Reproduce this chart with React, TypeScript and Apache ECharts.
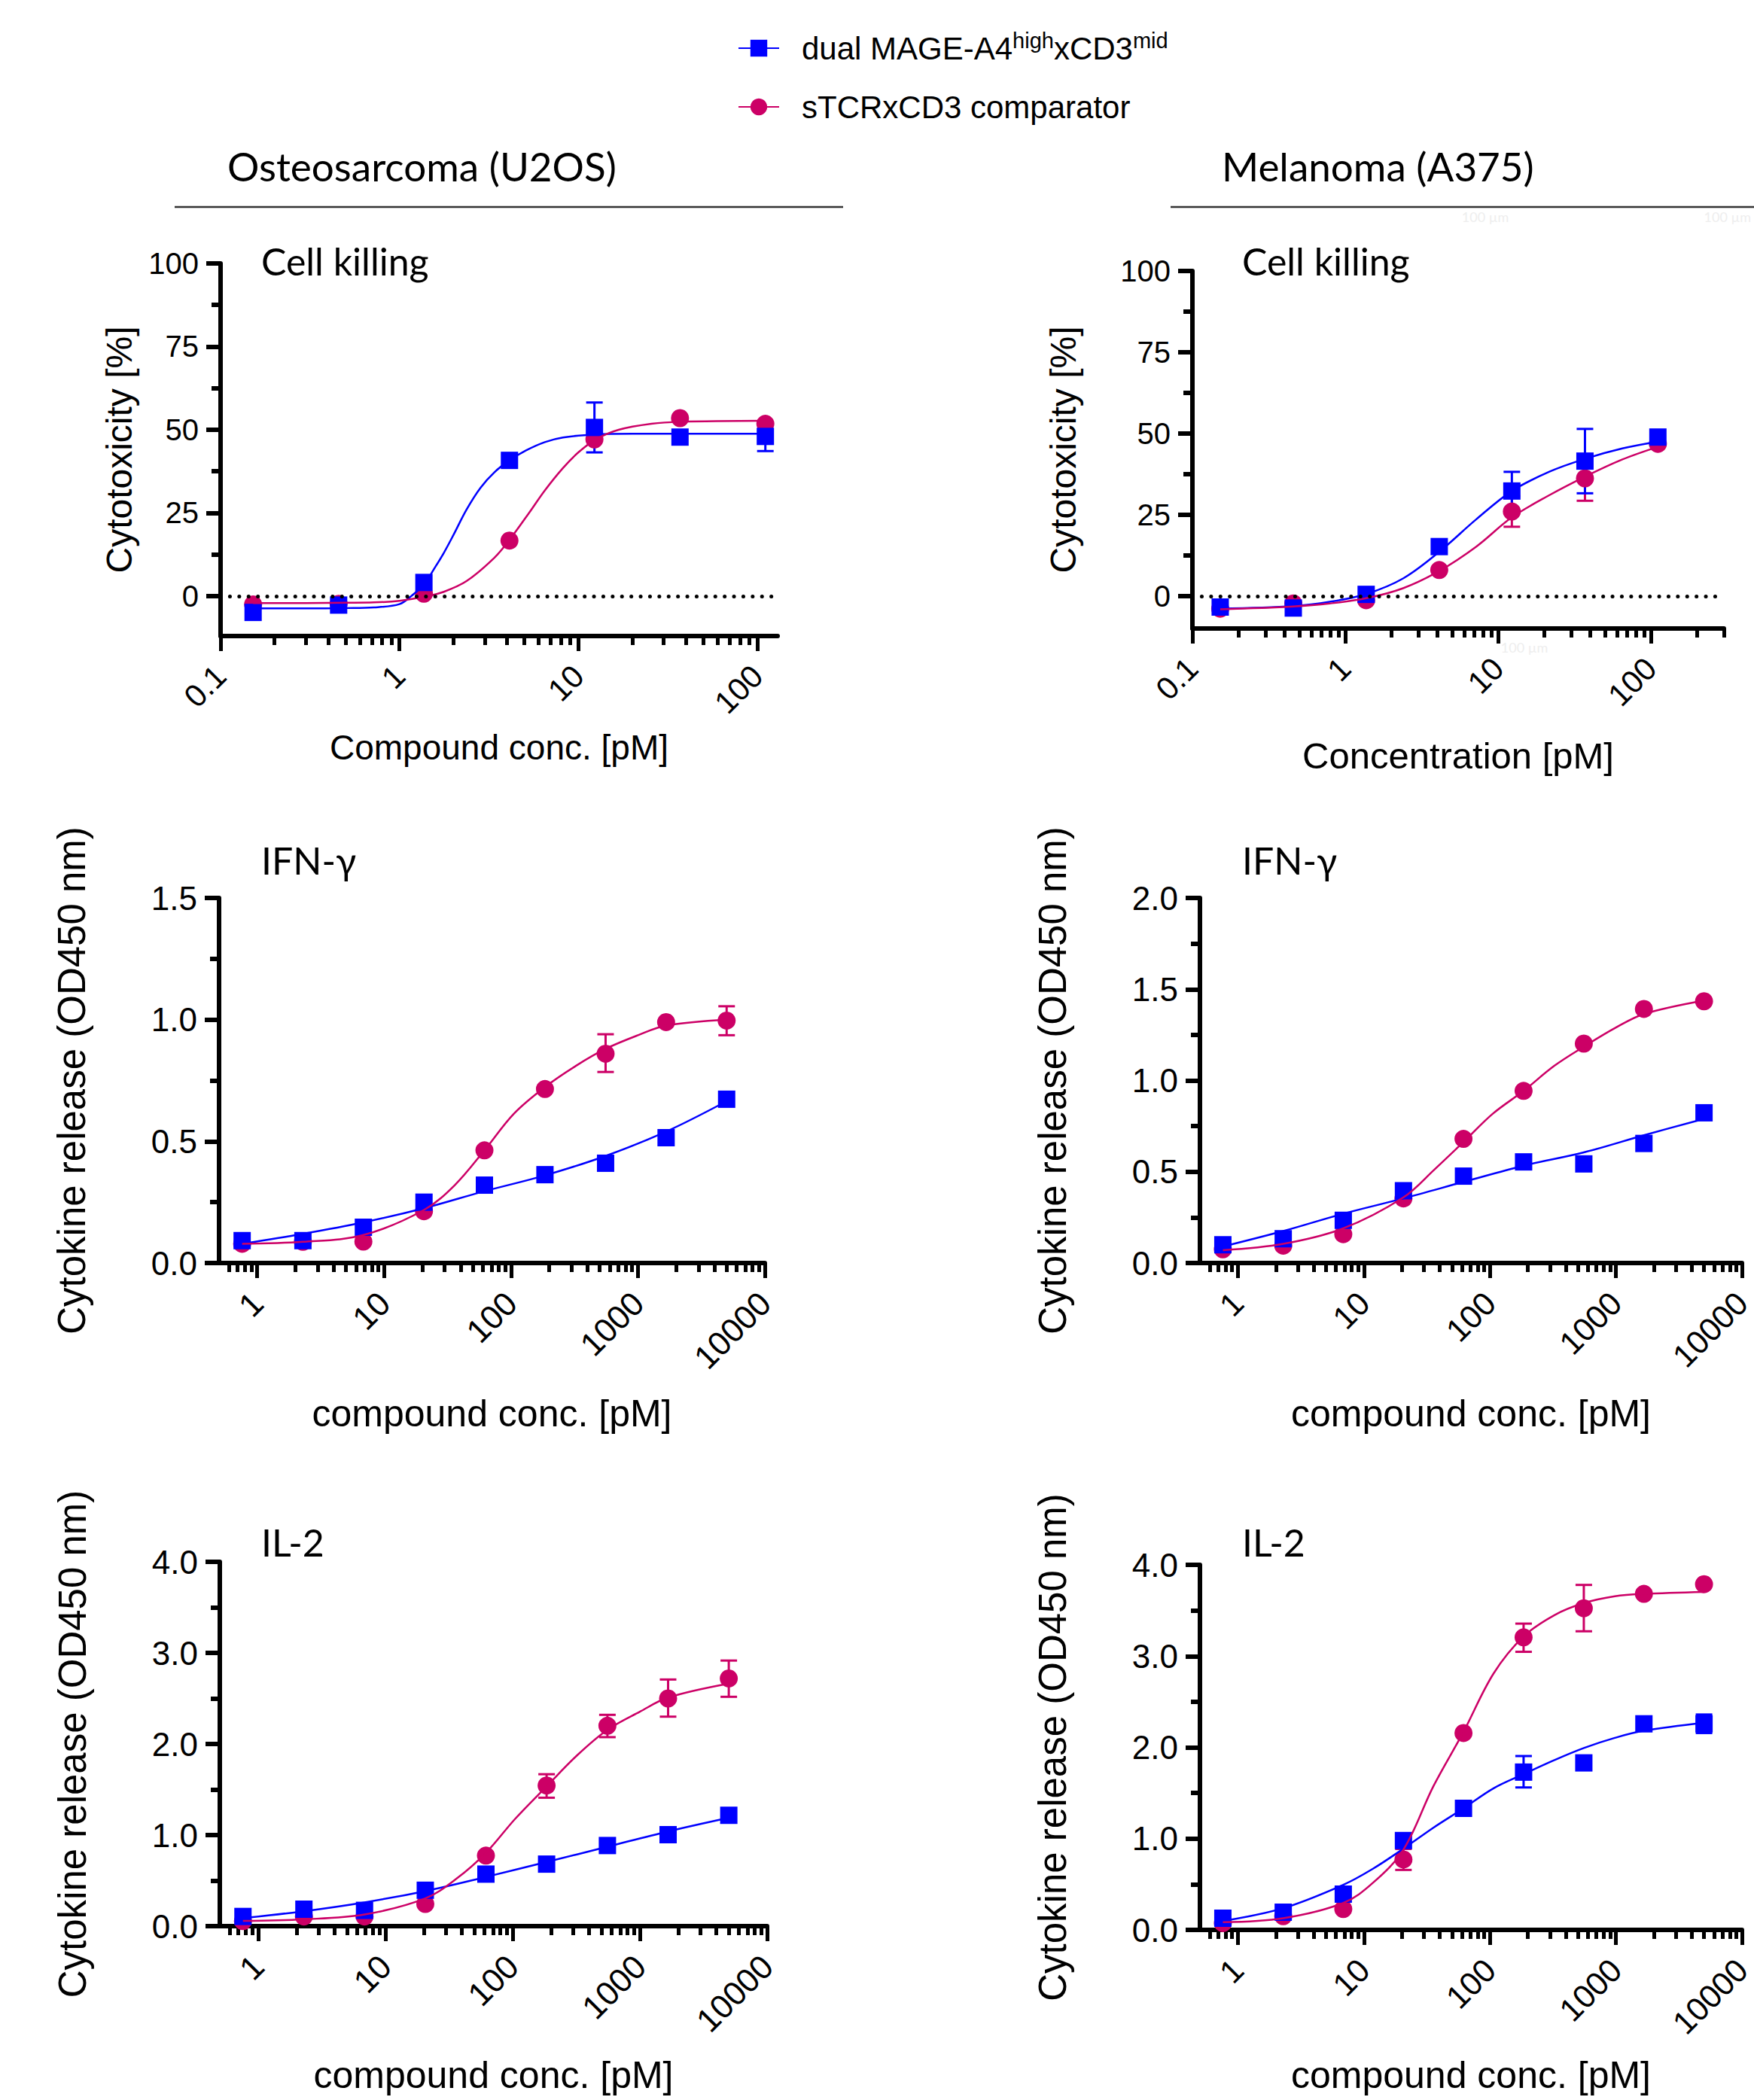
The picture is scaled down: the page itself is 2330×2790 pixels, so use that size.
import React, { useEffect, useRef } from 'react';
import * as echarts from 'echarts';

const W = 2330;
const H = 2790;
const BLUE = '#0000ff';
const RED = '#cc0066';
const ARIAL = '"Liberation Sans", Arial, Helvetica, sans-serif';
const CALIBRI = 'Lato, "Open Sans", sans-serif';

const NAME_DUAL = 'dual MAGE-A4highxCD3mid';
const NAME_STCR = 'sTCRxCD3 comparator';

// ---------- Cell killing (compound conc. in pM) ----------
const ckConc = [0.152, 0.457, 1.37, 4.12, 12.3, 37, 111];

const ckU2osDual = [-4.9, -2.7, 4.1, 40.8, 50.7, 47.8, 48.0];
const ckU2osStcr = [-2.5, -2.3, 0.7, 16.7, 47.1, 53.5, 51.8];
const ckU2osDualErr = [[12.3, 43.2, 58.2], [111, 43.6, 52.2]];
const ckU2osStcrErr: number[][] = [];
const ckU2osDualFitX = [0.152, 0.3, 0.5, 0.72, 1, 1.17, 1.38, 1.57, 1.77, 2.0, 2.37, 2.84, 3.39, 4.12, 5.1, 6.5, 8.2, 12.5, 20, 37, 111];
const ckU2osDualFitY = [-3.7, -3.7, -3.6, -3.4, -2.4, 0.1, 3.7, 8.4, 13, 18.3, 26, 32.6, 37.2, 40.8, 43.8, 46.3, 47.7, 48.6, 48.8, 48.8, 48.8];
const ckU2osStcrFitX = [0.152, 0.3, 0.5, 0.72, 1, 1.38, 1.77, 2.37, 3.39, 4.12, 5.3, 6.5, 8.2, 10, 12.5, 16.8, 25.6, 37, 111];
const ckU2osStcrFitY = [-2.1, -2.1, -2.0, -1.9, -1.4, -0.2, 1.3, 4.5, 11.5, 16.9, 25, 31.8, 38.5, 43.2, 47.1, 50, 51.8, 52.4, 52.7];

const ckA375Dual = [-3.4, -3.7, 0.5, 15.2, 32.3, 41.5, 48.9];
const ckA375Stcr = [-3.9, -2.3, -1.3, 8.0, 26.0, 36.2, 46.8];
const ckA375DualErr = [[12.3, 26.4, 38.2], [37, 31.6, 51.4]];
const ckA375StcrErr = [[12.3, 21.3, 30.7], [37, 29.3, 43.1]];
const ckA375FitX = [0.152, 0.457, 0.79, 1.37, 2.39, 4.12, 7.2, 12.3, 21.8, 37, 65, 111];
const ckA375DualFitY = [-3.9, -3.1, -1.8, 0.6, 5.4, 13.6, 23.6, 32.3, 38.3, 42.2, 45.4, 47.5];
const ckA375StcrFitY = [-4.1, -3.2, -2.3, -0.7, 2.4, 7.7, 15.2, 24.2, 31.1, 36.7, 42.0, 45.9];

// ---------- Cytokine release (compound conc. in pM) ----------
const cytConc = [0.76, 2.29, 6.86, 20.6, 61.7, 185, 556, 1667, 5000];
const cytFitX = [0.76, 2.29, 6.86, 20.6, 36, 61.7, 105, 185, 324, 556, 1000, 1667, 5000];

const ifnU2osDual = [0.092, 0.092, 0.147, 0.25, 0.32, 0.363, 0.41, 0.515, 0.673];
const ifnU2osStcr = [0.079, 0.087, 0.088, 0.213, 0.463, 0.715, 0.86, 0.99, 0.996];
const ifnU2osDualErr: number[][] = [];
const ifnU2osStcrErr = [[556, 0.785, 0.94], [5000, 0.936, 1.055]];
const ifnU2osDualFitY = [0.079, 0.12, 0.167, 0.225, 0.295, 0.36, 0.44, 0.54, 0.665];
const ifnU2osStcrFitY = [0.079, 0.087, 0.115, 0.218, 0.32, 0.463, 0.613, 0.723, 0.81, 0.88, 0.936, 0.976, 1.0];

const ifnA375Dual = [0.1, 0.133, 0.234, 0.396, 0.476, 0.554, 0.543, 0.655, 0.823];
const ifnA375Stcr = [0.075, 0.095, 0.158, 0.354, 0.68, 0.943, 1.202, 1.392, 1.434];
const ifnA375DualErr: number[][] = [];
const ifnA375StcrErr: number[][] = [];
const ifnA375DualFitY = [0.09, 0.175, 0.27, 0.354, 0.444, 0.533, 0.606, 0.7, 0.79];
const ifnA375StcrFitY = [0.07, 0.105, 0.19, 0.36, 0.51, 0.663, 0.817, 0.943, 1.08, 1.185, 1.29, 1.364, 1.438];

const il2U2osDual = [0.106, 0.186, 0.173, 0.394, 0.571, 0.681, 0.885, 1.004, 1.217];
const il2U2osStcr = [0.055, 0.106, 0.106, 0.243, 0.774, 1.544, 2.2, 2.5, 2.72];
const il2U2osDualErr: number[][] = [];
const il2U2osStcrErr = [[185, 1.41, 1.668], [556, 2.075, 2.32], [1667, 2.3, 2.708], [5000, 2.518, 2.916]];
const il2U2osDualFitY = [0.088, 0.164, 0.261, 0.385, 0.54, 0.704, 0.872, 1.04, 1.19];
const il2U2osStcrFitY = [0.058, 0.075, 0.128, 0.305, 0.518, 0.805, 1.18, 1.535, 1.88, 2.155, 2.354, 2.51, 2.664];

const il2A375Dual = [0.128, 0.194, 0.392, 0.979, 1.332, 1.729, 1.83, 2.258, 2.258];
const il2A375Stcr = [0.075, 0.15, 0.229, 0.772, 2.157, 3.206, 3.524, 3.682, 3.788];
const il2A375DualErr = [[185, 1.561, 1.905], [5000, 2.157, 2.36]];
const il2A375StcrErr = [[20.6, 0.657, 0.887], [185, 3.047, 3.356], [556, 3.272, 3.78]];
const il2A375FitX = [0.76, 2.29, 6.86, 11.8, 20.6, 35.6, 61.7, 107, 185, 325, 556, 980, 1667, 5000];
const il2A375DualFitY = [0.097, 0.238, 0.494, 0.67, 0.89, 1.12, 1.332, 1.552, 1.707, 1.861, 1.993, 2.104, 2.183, 2.271];
const il2A375StcrFitY = [0.084, 0.128, 0.295, 0.516, 0.88, 1.574, 2.17, 2.81, 3.215, 3.449, 3.581, 3.656, 3.682, 3.704];

// ---------- Axis ticks ----------
const ckXTicks = [0.1, 1, 10, 100];
const ckU2osXMinor = [0.2, 0.3, 0.4, 0.5, 0.6, 0.7, 0.8, 0.9, 2, 3, 4, 5, 6, 7, 8, 9, 20, 30, 40, 50, 60, 70, 80, 90];
const ckA375XMinor = [0.2, 0.3, 0.4, 0.5, 0.6, 0.7, 0.8, 0.9, 2, 3, 4, 5, 6, 7, 8, 9, 20, 30, 40, 50, 60, 70, 80, 90, 200, 300];
const cytXTicks = [1, 10, 100, 1000, 10000];
const cytXMinor = [0.6, 0.7, 0.8, 0.9, 2, 3, 4, 5, 6, 7, 8, 9, 20, 30, 40, 50, 60, 70, 80, 90,
  200, 300, 400, 500, 600, 700, 800, 900, 2000, 3000, 4000, 5000, 6000, 7000, 8000, 9000];
const ckYTicks = [0, 25, 50, 75, 100];
const ckYMinor = [12.5, 37.5, 62.5, 87.5];
const ifnU2osYTicks = [0, 0.5, 1.0, 1.5];
const ifnU2osYMinor = [0.25, 0.75, 1.25];
const ifnA375YTicks = [0, 0.5, 1.0, 1.5, 2.0];
const ifnA375YMinor = [0.25, 0.75, 1.25, 1.75];
const il2YTicks = [0, 1, 2, 3, 4];
const il2YMinor = [0.5, 1.5, 2.5, 3.5];

interface PanelCfg {
  rect: [number, number, number, number];
  xRange: [number, number];
  xTicks: number[];
  xMinor: number[];
  yRange: [number, number];
  yTicks: number[];
  yMinor: number[];
  yDecimals: number;
  xName: string;
  yName: string;
  xNameGap: number;
  yNameGap: number;
  xNameSize: number;
  yNameSize: number;
  yLabelSize: number;
  xLabelSize: number;
  title: string;
  titlePos: [number, number];
  dualFit: [number[], number[]];
  stcrFit: [number[], number[]];
  conc: number[];
  dual: number[];
  stcr: number[];
  dualErr: number[][];
  stcrErr: number[][];
  zeroLine: boolean;
}

const panels: PanelCfg[] = [
  {
    rect: [293, 350, 740, 495], xRange: [0.1, 130], xTicks: ckXTicks, xMinor: ckU2osXMinor,
    yRange: [-12, 100], yTicks: ckYTicks, yMinor: ckYMinor, yDecimals: 0,
    xName: 'Compound conc. [pM]', yName: 'Cytotoxicity [%]', xNameGap: 125, yNameGap: 111,
    xNameSize: 46, yNameSize: 48, yLabelSize: 40, xLabelSize: 42,
    title: 'Cell killing', titlePos: [347, 366],
    dualFit: [ckU2osDualFitX, ckU2osDualFitY], stcrFit: [ckU2osStcrFitX, ckU2osStcrFitY],
    conc: ckConc, dual: ckU2osDual, stcr: ckU2osStcr, dualErr: ckU2osDualErr, stcrErr: ckU2osStcrErr, zeroLine: true,
  },
  {
    rect: [1584, 360, 706, 475], xRange: [0.1, 300], xTicks: ckXTicks, xMinor: ckA375XMinor,
    yRange: [-10, 100], yTicks: ckYTicks, yMinor: ckYMinor, yDecimals: 0,
    xName: 'Concentration [pM]', yName: 'Cytotoxicity [%]', xNameGap: 144, yNameGap: 148,
    xNameSize: 49, yNameSize: 48, yLabelSize: 40, xLabelSize: 42,
    title: 'Cell killing', titlePos: [1650, 366],
    dualFit: [ckA375FitX, ckA375DualFitY], stcrFit: [ckA375FitX, ckA375StcrFitY],
    conc: ckConc, dual: ckA375Dual, stcr: ckA375Stcr, dualErr: ckA375DualErr, stcrErr: ckA375StcrErr, zeroLine: true,
  },
  {
    rect: [291, 1193, 725, 485], xRange: [0.5, 10000], xTicks: cytXTicks, xMinor: cytXMinor,
    yRange: [0, 1.5], yTicks: ifnU2osYTicks, yMinor: ifnU2osYMinor, yDecimals: 1,
    xName: 'compound conc. [pM]', yName: 'Cytokine release (OD450 nm)', xNameGap: 175, yNameGap: 170,
    xNameSize: 50, yNameSize: 51, yLabelSize: 44, xLabelSize: 44,
    title: 'IFN-γ', titlePos: [347, 1162],
    dualFit: [cytConc, ifnU2osDualFitY], stcrFit: [cytFitX, ifnU2osStcrFitY],
    conc: cytConc, dual: ifnU2osDual, stcr: ifnU2osStcr, dualErr: ifnU2osDualErr, stcrErr: ifnU2osStcrErr, zeroLine: false,
  },
  {
    rect: [1594, 1193, 720, 485], xRange: [0.5, 10000], xTicks: cytXTicks, xMinor: cytXMinor,
    yRange: [0, 2], yTicks: ifnA375YTicks, yMinor: ifnA375YMinor, yDecimals: 1,
    xName: 'compound conc. [pM]', yName: 'Cytokine release (OD450 nm)', xNameGap: 175, yNameGap: 170,
    xNameSize: 50, yNameSize: 51, yLabelSize: 44, xLabelSize: 43,
    title: 'IFN-γ', titlePos: [1650, 1162],
    dualFit: [cytConc, ifnA375DualFitY], stcrFit: [cytFitX, ifnA375StcrFitY],
    conc: cytConc, dual: ifnA375Dual, stcr: ifnA375Stcr, dualErr: ifnA375DualErr, stcrErr: ifnA375StcrErr, zeroLine: false,
  },
  {
    rect: [292, 2075, 727, 484], xRange: [0.5, 10000], xTicks: cytXTicks, xMinor: cytXMinor,
    yRange: [0, 4], yTicks: il2YTicks, yMinor: il2YMinor, yDecimals: 1,
    xName: 'compound conc. [pM]', yName: 'Cytokine release (OD450 nm)', xNameGap: 173, yNameGap: 170,
    xNameSize: 50, yNameSize: 51, yLabelSize: 44, xLabelSize: 44,
    title: 'IL-2', titlePos: [347, 2068],
    dualFit: [cytConc, il2U2osDualFitY], stcrFit: [cytFitX, il2U2osStcrFitY],
    conc: cytConc, dual: il2U2osDual, stcr: il2U2osStcr, dualErr: il2U2osDualErr, stcrErr: il2U2osStcrErr, zeroLine: false,
  },
  {
    rect: [1594, 2079, 720, 485], xRange: [0.5, 10000], xTicks: cytXTicks, xMinor: cytXMinor,
    yRange: [0, 4], yTicks: il2YTicks, yMinor: il2YMinor, yDecimals: 1,
    xName: 'compound conc. [pM]', yName: 'Cytokine release (OD450 nm)', xNameGap: 168, yNameGap: 170,
    xNameSize: 50, yNameSize: 51, yLabelSize: 44, xLabelSize: 43,
    title: 'IL-2', titlePos: [1650, 2068],
    dualFit: [il2A375FitX, il2A375DualFitY], stcrFit: [il2A375FitX, il2A375StcrFitY],
    conc: cytConc, dual: il2A375Dual, stcr: il2A375Stcr, dualErr: il2A375DualErr, stcrErr: il2A375StcrErr, zeroLine: false,
  },
];

const L = (v: number) => Math.log10(v);
const pts = (xs: number[], ys: number[]) => xs.map((x, i) => [L(x), ys[i]]);
const errs = (list: number[][]) => list.map((e) => [L(e[0]), e[1], e[2]]);

const errRender = (color: string) => (_params: any, api: any) => {
  const x = api.value(0);
  const lo = api.value(1);
  const hi = api.value(2);
  const a = api.coord([x, hi]);
  const b = api.coord([x, lo]);
  const w = 11;
  const st = { stroke: color, lineWidth: 3 };
  return {
    type: 'group',
    children: [
      { type: 'line', shape: { x1: a[0], y1: a[1], x2: b[0], y2: b[1] }, style: st },
      { type: 'line', shape: { x1: a[0] - w, y1: a[1], x2: a[0] + w, y2: a[1] }, style: st },
      { type: 'line', shape: { x1: b[0] - w, y1: b[1], x2: b[0] + w, y2: b[1] }, style: st },
    ],
  };
};

function buildOption() {
  const grid: any[] = [];
  const xAxis: any[] = [];
  const yAxis: any[] = [];
  const series: any[] = [];
  const graphic: any[] = [];

  panels.forEach((p, i) => {
    const [left, top, width, height] = p.rect;
    const gMain = 2 * i;
    const gMinor = 2 * i + 1;
    grid.push({ left, top, width, height, containLabel: false, outerBoundsMode: 'none' });
    grid.push({ left, top, width, height, containLabel: false, outerBoundsMode: 'none' });

    const xMin = L(p.xRange[0]);
    const xMax = L(p.xRange[1]);
    const xMajorVals = p.xTicks.map(L);
    const xLabel = (v: number) => {
      const t = p.xTicks.find((tt) => Math.abs(L(tt) - v) < 1e-6);
      return t === undefined ? '' : String(t);
    };

    xAxis.push({
      type: 'value', gridIndex: gMain, min: xMin, max: xMax,
      axisLine: { show: true, onZero: false, lineStyle: { color: '#000', width: 6 } },
      axisTick: { show: true, customValues: xMajorVals, length: 20, lineStyle: { color: '#000', width: 5 } },
      axisLabel: {
        show: true, customValues: xMajorVals, rotate: 45, margin: 46, fontSize: p.xLabelSize,
        color: '#000', fontFamily: ARIAL, formatter: xLabel,
      },
      splitLine: { show: false },
      name: p.xName, nameLocation: 'middle', nameGap: p.xNameGap,
      nameTextStyle: { fontSize: p.xNameSize, color: '#000', fontFamily: ARIAL },
    });
    xAxis.push({
      type: 'value', gridIndex: gMinor, min: xMin, max: xMax,
      axisLine: { show: false, onZero: false },
      axisTick: { show: true, customValues: p.xMinor.map(L), length: 12, lineStyle: { color: '#000', width: 5 } },
      axisLabel: { show: false },
      splitLine: { show: false },
    });

    yAxis.push({
      type: 'value', gridIndex: gMain, min: p.yRange[0], max: p.yRange[1],
      axisLine: { show: true, onZero: false, lineStyle: { color: '#000', width: 6 } },
      axisTick: { show: true, customValues: p.yTicks, length: 19, lineStyle: { color: '#000', width: 6 } },
      axisLabel: {
        show: true, customValues: p.yTicks, margin: 29, fontSize: p.yLabelSize, color: '#000', fontFamily: ARIAL,
        formatter: (v: number) => v.toFixed(p.yDecimals),
      },
      splitLine: { show: false },
      name: p.yName, nameLocation: 'middle', nameGap: p.yNameGap, nameRotate: 90,
      nameTextStyle: { fontSize: p.yNameSize, color: '#000', fontFamily: ARIAL },
    });
    yAxis.push({
      type: 'value', gridIndex: gMinor, min: p.yRange[0], max: p.yRange[1],
      axisLine: { show: false, onZero: false },
      axisTick: { show: true, customValues: p.yMinor, length: 12, lineStyle: { color: '#000', width: 6 } },
      axisLabel: { show: false },
      splitLine: { show: false },
    });

    const base = { xAxisIndex: gMain, yAxisIndex: gMain, silent: true, animation: false };

    series.push({
      ...base, type: 'line', name: NAME_DUAL, data: pts(p.dualFit[0], p.dualFit[1]),
      smooth: 0.35, symbol: 'rect', showSymbol: false,
      lineStyle: { color: BLUE, width: 2.5, opacity: 1 }, itemStyle: { color: BLUE, opacity: 1 },
      markLine: p.zeroLine ? {
        silent: true, symbol: ['none', 'none'], label: { show: false },
        lineStyle: { color: '#000', width: 5, type: [0.1, 12.3], cap: 'round', opacity: 1 },
        data: [{ yAxis: 0 }],
      } : undefined,
    });
    series.push({
      ...base, type: 'line', name: NAME_STCR, data: pts(p.stcrFit[0], p.stcrFit[1]),
      smooth: 0.35, symbol: 'circle', showSymbol: false,
      lineStyle: { color: RED, width: 2.5, opacity: 1 }, itemStyle: { color: RED, opacity: 1 },
    });
    if (p.stcrErr.length) {
      series.push({
        ...base, type: 'custom', name: NAME_STCR, data: errs(p.stcrErr),
        encode: { x: 0, y: [1, 2] }, renderItem: errRender(RED),
      });
    }
    if (p.dualErr.length) {
      series.push({
        ...base, type: 'custom', name: NAME_DUAL, data: errs(p.dualErr),
        encode: { x: 0, y: [1, 2] }, renderItem: errRender(BLUE),
      });
    }
    series.push({
      ...base, type: 'scatter', name: NAME_STCR, data: pts(p.conc, p.stcr),
      symbol: 'circle', symbolSize: 24, itemStyle: { color: RED, opacity: 1 },
    });
    series.push({
      ...base, type: 'scatter', name: NAME_DUAL, data: pts(p.conc, p.dual),
      symbol: 'rect', symbolSize: 23, itemStyle: { color: BLUE, opacity: 1 },
    });

    graphic.push({
      type: 'text', x: p.titlePos[0], y: p.titlePos[1] - 19,
      style: { text: p.title, fontSize: 50, fontFamily: CALIBRI, fill: '#000', textAlign: 'left', textVerticalAlign: 'middle' },
    });
  });

  graphic.push(
    { type: 'text', x: 302, y: 220, style: { text: 'Osteosarcoma (U2OS)', fontSize: 53, fontFamily: CALIBRI, fill: '#000', textAlign: 'left', textVerticalAlign: 'middle' } },
    { type: 'text', x: 1623, y: 220, style: { text: 'Melanoma (A375)', fontSize: 53, fontFamily: CALIBRI, fill: '#000', textAlign: 'left', textVerticalAlign: 'middle' } },
    { type: 'line', shape: { x1: 232, y1: 275, x2: 1120, y2: 275 }, style: { stroke: '#333', lineWidth: 2.5 } },
    { type: 'line', shape: { x1: 1555, y1: 275, x2: 2330, y2: 275 }, style: { stroke: '#333', lineWidth: 2.5 } },
    { type: 'text', x: 1973, y: 288, style: { text: '100 µm', fontSize: 18, fontFamily: CALIBRI, fill: '#eeeeee', textAlign: 'center', textVerticalAlign: 'middle' } },
    { type: 'text', x: 2326, y: 288, style: { text: '100 µm', fontSize: 18, fontFamily: CALIBRI, fill: '#eeeeee', textAlign: 'right', textVerticalAlign: 'middle' } },
    { type: 'text', x: 2025, y: 860, style: { text: '100 µm', fontSize: 18, fontFamily: CALIBRI, fill: '#eeeeee', textAlign: 'center', textVerticalAlign: 'middle' } },
  );

  return {
    animation: false,
    backgroundColor: '#ffffff',
    textStyle: { fontFamily: ARIAL, color: '#000' },
    legend: {
      data: [NAME_DUAL, NAME_STCR],
      orient: 'vertical', left: 980, top: 39, padding: 0,
      itemWidth: 54, itemHeight: 28, itemGap: 28, selectedMode: false,
      formatter: (name: string) => name === NAME_DUAL
        ? '{sp| }{a|dual MAGE-A4}{s|high}{a|xCD3}{s|mid}'
        : '{sp| }{a|sTCRxCD3 comparator}',
      textStyle: {
        fontFamily: ARIAL, color: '#000', fontSize: 42, lineHeight: 50,
        rich: {
          sp: { width: 25, fontSize: 42, lineHeight: 50 },
          a: { fontSize: 42, lineHeight: 50, fontFamily: ARIAL, color: '#000' },
          s: { fontSize: 29, lineHeight: 35, verticalAlign: 'top', fontFamily: ARIAL, color: '#000' },
        },
      },
    },
    grid, xAxis, yAxis, series, graphic,
  };
}

export default function App() {
  const ref = useRef<HTMLDivElement>(null);
  useEffect(() => {
    if (!ref.current) return;
    const chart = echarts.init(ref.current, null, { renderer: 'svg', width: W, height: H });
    chart.setOption(buildOption() as any);
    return () => {
      chart.dispose();
    };
  }, []);
  return (
    <div
      ref={ref}
      style={{ position: 'absolute', left: 0, top: 0, width: W, height: H, background: '#fff' }}
    />
  );
}
